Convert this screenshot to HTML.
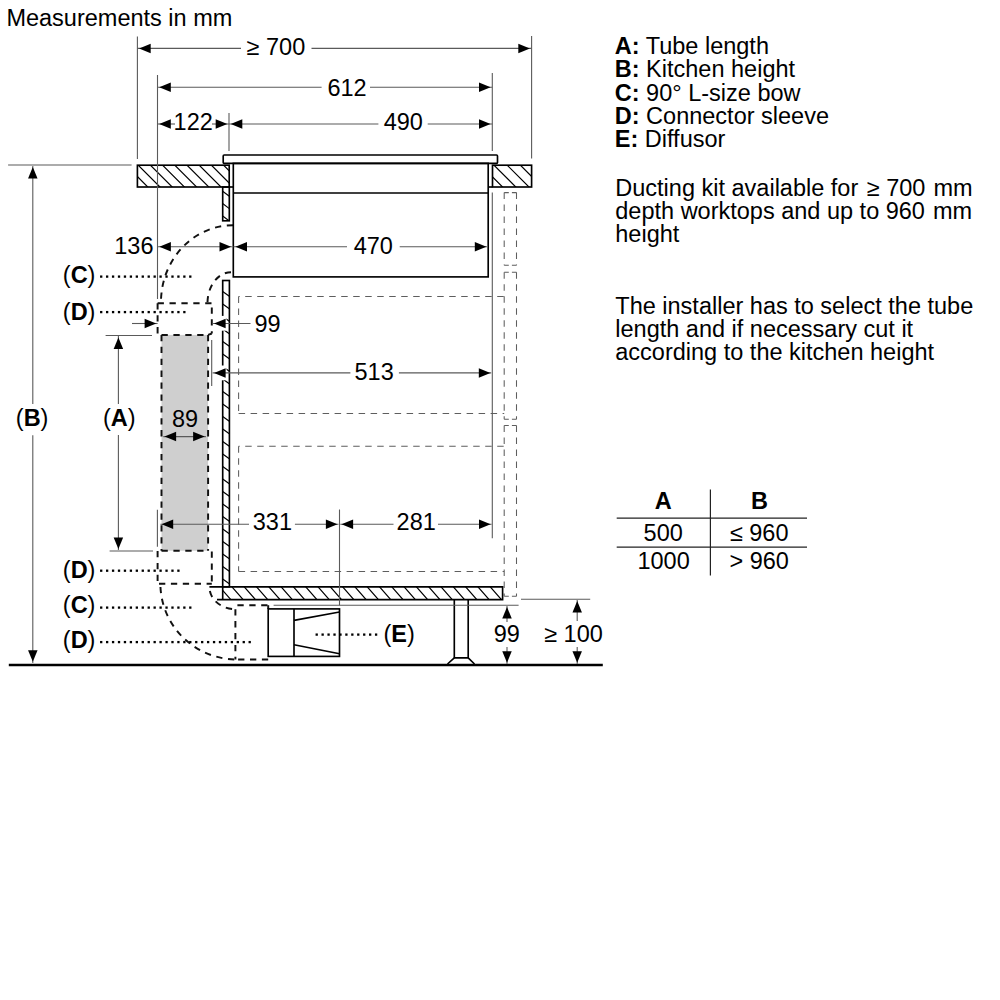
<!DOCTYPE html>
<html><head><meta charset="utf-8"><title>Ducting kit measurements</title>
<style>
html,body{margin:0;padding:0;background:#fff;}
body{width:1000px;height:1000px;overflow:hidden;}
svg{display:block;font-family:"Liberation Sans",sans-serif;}
svg text{fill:#000;}
</style></head>
<body>
<svg width="1000" height="1000" viewBox="0 0 1000 1000">
<rect width="1000" height="1000" fill="#fff"/>
<path d="M238.6,296.5 L504.2,296.5" stroke="#5e5e5e" stroke-width="1.05" fill="none" stroke-dasharray="6.5 5.5" stroke-dashoffset="5.4"/>
<path d="M238.6,296.5 L238.6,413.4" stroke="#5e5e5e" stroke-width="1.05" fill="none" stroke-dasharray="6.5 5.5"/>
<path d="M238.6,413.4 L504.2,413.4" stroke="#5e5e5e" stroke-width="1.05" fill="none" stroke-dasharray="6.5 5.5"/>
<path d="M238.6,446.2 L504.2,446.2" stroke="#5e5e5e" stroke-width="1.05" fill="none" stroke-dasharray="6.5 5.5" stroke-dashoffset="5.4"/>
<path d="M238.6,446.2 L238.6,571.5" stroke="#5e5e5e" stroke-width="1.05" fill="none" stroke-dasharray="6.5 5.5"/>
<path d="M238.6,571.5 L504.2,571.5" stroke="#5e5e5e" stroke-width="1.05" fill="none" stroke-dasharray="6.5 5.5"/>
<path d="M504.2,192.6 L516.5,192.6" stroke="#5e5e5e" stroke-width="1.05" fill="none" stroke-dasharray="4.6 3.1 4.6"/>
<path d="M504.2,265.3 L516.5,265.3" stroke="#5e5e5e" stroke-width="1.05" fill="none" stroke-dasharray="4.6 3.1 4.6"/>
<path d="M504.2,192.6 L504.2,265.3" stroke="#5e5e5e" stroke-width="1.05" fill="none" stroke-dasharray="6.5 5.5"/>
<path d="M516.5,192.6 L516.5,265.3" stroke="#5e5e5e" stroke-width="1.05" fill="none" stroke-dasharray="6.5 5.5"/>
<path d="M504.2,272.3 L516.5,272.3" stroke="#5e5e5e" stroke-width="1.05" fill="none" stroke-dasharray="4.6 3.1 4.6"/>
<path d="M504.2,419.2 L516.5,419.2" stroke="#5e5e5e" stroke-width="1.05" fill="none" stroke-dasharray="4.6 3.1 4.6"/>
<path d="M504.2,272.3 L504.2,419.2" stroke="#5e5e5e" stroke-width="1.05" fill="none" stroke-dasharray="6.5 5.5"/>
<path d="M516.5,272.3 L516.5,419.2" stroke="#5e5e5e" stroke-width="1.05" fill="none" stroke-dasharray="6.5 5.5"/>
<path d="M504.2,425.5 L516.5,425.5" stroke="#5e5e5e" stroke-width="1.05" fill="none" stroke-dasharray="4.6 3.1 4.6"/>
<path d="M504.2,596.3 L516.5,596.3" stroke="#5e5e5e" stroke-width="1.05" fill="none" stroke-dasharray="4.6 3.1 4.6"/>
<path d="M504.2,425.5 L504.2,596.3" stroke="#5e5e5e" stroke-width="1.05" fill="none" stroke-dasharray="6.5 5.5"/>
<path d="M516.5,425.5 L516.5,596.3" stroke="#5e5e5e" stroke-width="1.05" fill="none" stroke-dasharray="6.5 5.5"/>
<rect x="161.5" y="334.9" width="46.6" height="215.8" fill="#cfcfcf"/>
<path d="M161.5,334.9 H208.1 M161.5,334.9 V550.7 M208.1,334.9 V550.7 M161.5,550.7 H208.1" stroke="#111" stroke-width="1.95" fill="none" stroke-dasharray="6.3 5.6"/>
<path d="M233,225.2 A72,76.8 0 0 0 161,302" stroke="#111" stroke-width="1.95" fill="none" stroke-dasharray="6.3 5.6"/>
<path d="M231,272.2 A23.5,30.8 0 0 0 207.5,303" stroke="#111" stroke-width="1.95" fill="none" stroke-dasharray="6.3 5.6"/>
<path d="M157.6,303.3 L157.6,333.5" stroke="#111" stroke-width="1.95" fill="none" stroke-dasharray="6.3 5.6"/>
<path d="M157.6,303.3 L211.8,303.3" stroke="#111" stroke-width="1.95" fill="none" stroke-dasharray="6.3 5.6"/>
<path d="M211.8,307.4 L211.8,333.5" stroke="#111" stroke-width="1.95" fill="none" stroke-dasharray="6.3 5.6"/>
<path d="M211.8,333.5 L208.1,334.9" stroke="#111" stroke-width="1.95" fill="none" stroke-dasharray="6.3 5.6"/>
<path d="M157.6,551 L157.6,583.7" stroke="#111" stroke-width="1.95" fill="none" stroke-dasharray="6.3 5.6"/>
<path d="M159,583.7 L211.8,583.7" stroke="#111" stroke-width="1.95" fill="none" stroke-dasharray="6.3 5.6"/>
<path d="M211.8,551.5 L211.8,583.7" stroke="#111" stroke-width="1.95" fill="none" stroke-dasharray="6.3 5.6"/>
<path d="M160.4,583.7 A76.6,75.8 0 0 0 237,659.5" stroke="#111" stroke-width="1.95" fill="none" stroke-dasharray="6.3 5.6" stroke-dashoffset="8.6"/>
<path d="M209.4,586.8 A26,22.4 0 0 0 235.4,609.2" stroke="#111" stroke-width="1.95" fill="none" stroke-dasharray="6.3 5.6" stroke-dashoffset="7.6"/>
<path d="M235.4,609.2 L235.4,659.5" stroke="#111" stroke-width="1.95" fill="none" stroke-dasharray="6.3 5.6"/>
<path d="M268.2,659.5 L235.4,659.5" stroke="#111" stroke-width="1.95" fill="none" stroke-dasharray="6.3 5.6"/>
<path d="M237.4,605.2 L268.2,605.2" stroke="#111" stroke-width="1.95" fill="none" stroke-dasharray="6.3 5.6"/>
<path d="M268.2,605.2 L268.2,608.9" stroke="#111" stroke-width="1.95" fill="none" stroke-dasharray="6.3 5.6"/>
<clipPath id="h1"><rect x="137.4" y="165.2" width="91.79999999999998" height="21.80000000000001"/></clipPath>
<path d="M108.80,160.20L140.60,192.00M121.00,160.20L152.80,192.00M133.20,160.20L165.00,192.00M145.40,160.20L177.20,192.00M157.60,160.20L189.40,192.00M169.80,160.20L201.60,192.00M182.00,160.20L213.80,192.00M194.20,160.20L226.00,192.00M206.40,160.20L238.20,192.00M218.60,160.20L250.40,192.00M230.80,160.20L262.60,192.00M243.00,160.20L274.80,192.00" stroke="#000" stroke-width="1.2" fill="none" clip-path="url(#h1)"/>
<rect x="137.4" y="165.2" width="91.8" height="21.8" stroke="#000" stroke-width="1.65" fill="none"/>
<clipPath id="h2"><rect x="492.5" y="165.2" width="39.10000000000002" height="21.80000000000001"/></clipPath>
<path d="M462.60,160.20L494.40,192.00M475.80,160.20L507.60,192.00M489.00,160.20L520.80,192.00M502.20,160.20L534.00,192.00M515.40,160.20L547.20,192.00M528.60,160.20L560.40,192.00M541.80,160.20L573.60,192.00" stroke="#000" stroke-width="1.2" fill="none" clip-path="url(#h2)"/>
<rect x="492.5" y="165.2" width="39.1" height="21.8" stroke="#000" stroke-width="1.65" fill="none"/>
<rect x="223.2" y="155" width="274.3" height="8.4" rx="1" stroke="#000" stroke-width="1.65" fill="none"/>
<rect x="233.3" y="163.4" width="254.9" height="113.5" stroke="#000" stroke-width="1.65" fill="none"/>
<line x1="233.3" y1="193" x2="488.2" y2="193" stroke="#000" stroke-width="1.65" fill="none"/>
<line x1="229.2" y1="187" x2="233.3" y2="187" stroke="#000" stroke-width="1.65" fill="none"/>
<line x1="488.2" y1="187" x2="492.5" y2="187" stroke="#000" stroke-width="1.65" fill="none"/>
<clipPath id="h3"><rect x="222.7" y="187" width="6.600000000000023" height="33.80000000000001"/></clipPath>
<path d="M220.70,189.68L231.30,197.72M220.70,202.08L231.30,210.12M220.70,214.48L231.30,222.52M220.70,226.88L231.30,234.92" stroke="#000" stroke-width="1.15" fill="none" clip-path="url(#h3)"/>
<rect x="222.7" y="187" width="6.6" height="33.8" stroke="#000" stroke-width="1.65" fill="none"/>
<clipPath id="h4"><rect x="222.7" y="280.5" width="6.700000000000017" height="306.29999999999995"/></clipPath>
<path d="M220.70,290.07L231.40,297.73M220.70,302.57L231.40,310.23M220.70,315.07L231.40,322.73M220.70,327.57L231.40,335.23M220.70,340.07L231.40,347.73M220.70,352.57L231.40,360.23M220.70,365.07L231.40,372.73M220.70,377.57L231.40,385.23M220.70,390.07L231.40,397.73M220.70,402.57L231.40,410.23M220.70,415.07L231.40,422.73M220.70,427.57L231.40,435.23M220.70,440.07L231.40,447.73M220.70,452.57L231.40,460.23M220.70,465.07L231.40,472.73M220.70,477.57L231.40,485.23M220.70,490.07L231.40,497.73M220.70,502.57L231.40,510.23M220.70,515.07L231.40,522.73M220.70,527.57L231.40,535.23M220.70,540.07L231.40,547.73M220.70,552.57L231.40,560.23M220.70,565.07L231.40,572.73M220.70,577.57L231.40,585.23M220.70,590.07L231.40,597.73M220.70,602.57L231.40,610.23" stroke="#000" stroke-width="1.15" fill="none" clip-path="url(#h4)"/>
<rect x="222.7" y="280.5" width="6.7" height="306.3" stroke="#000" stroke-width="1.65" fill="none"/>
<line x1="222.7" y1="586.8" x2="222.7" y2="599.6" stroke="#000" stroke-width="1.65" fill="none"/>
<clipPath id="h5"><rect x="222.7" y="586.8" width="279.90000000000003" height="12.800000000000068"/></clipPath>
<path d="M202.30,581.10L222.91,604.60M214.60,581.10L235.21,604.60M226.90,581.10L247.51,604.60M239.20,581.10L259.81,604.60M251.50,581.10L272.11,604.60M263.80,581.10L284.41,604.60M276.10,581.10L296.71,604.60M288.40,581.10L309.01,604.60M300.70,581.10L321.31,604.60M313.00,581.10L333.61,604.60M325.30,581.10L345.91,604.60M337.60,581.10L358.21,604.60M349.90,581.10L370.51,604.60M362.20,581.10L382.81,604.60M374.50,581.10L395.11,604.60M386.80,581.10L407.41,604.60M399.10,581.10L419.71,604.60M411.40,581.10L432.01,604.60M423.70,581.10L444.31,604.60M436.00,581.10L456.61,604.60M448.30,581.10L468.91,604.60M460.60,581.10L481.21,604.60M472.90,581.10L493.51,604.60M485.20,581.10L505.81,604.60M497.50,581.10L518.11,604.60M509.80,581.10L530.41,604.60" stroke="#000" stroke-width="1.2" fill="none" clip-path="url(#h5)"/>
<path d="M209.4,586.8 H502.6 V599.6 H217" stroke="#000" stroke-width="1.65" fill="none"/>
<path d="M454.3,599.6 V657.8 H468.2 V599.6" stroke="#000" stroke-width="1.65" fill="none"/>
<path d="M454.3,657.8 L447.5,664 M468.2,657.8 L474.5,664" stroke="#000" stroke-width="1.65" fill="none"/>
<rect x="268.2" y="608.9" width="71.3" height="47.5" stroke="#000" stroke-width="1.65" fill="none"/>
<line x1="294" y1="608.9" x2="294" y2="656.4" stroke="#000" stroke-width="1.65" fill="none"/>
<line x1="294" y1="620.4" x2="339.5" y2="612" stroke="#000" stroke-width="1.65" fill="none"/>
<line x1="294" y1="644.7" x2="339.5" y2="653.7" stroke="#000" stroke-width="1.65" fill="none"/>
<line x1="8.8" y1="665.1" x2="602.8" y2="665.1" stroke="#000" stroke-width="2.5"/>
<line x1="137.4" y1="36.6" x2="137.4" y2="159" stroke="#5a5a5a" stroke-width="1.1" fill="none"/>
<line x1="531.6" y1="36" x2="531.6" y2="158.5" stroke="#5a5a5a" stroke-width="1.1" fill="none"/>
<line x1="137.4" y1="48.4" x2="241" y2="48.4" stroke="#5a5a5a" stroke-width="1.1" fill="none"/>
<line x1="311.5" y1="48.4" x2="531.6" y2="48.4" stroke="#5a5a5a" stroke-width="1.1" fill="none"/>
<polygon points="139.10,48.40 150.70,43.65 150.70,53.15" fill="#000"/>
<polygon points="529.90,48.40 518.30,43.65 518.30,53.15" fill="#000"/>
<line x1="157.5" y1="75" x2="157.5" y2="299" stroke="#5a5a5a" stroke-width="1.1" fill="none"/>
<line x1="492.3" y1="73" x2="492.3" y2="151" stroke="#5a5a5a" stroke-width="1.1" fill="none"/>
<line x1="492.3" y1="192.4" x2="492.3" y2="538.2" stroke="#5a5a5a" stroke-width="1.1" fill="none"/>
<line x1="157.5" y1="87.2" x2="321.6" y2="87.2" stroke="#5a5a5a" stroke-width="1.1" fill="none"/>
<line x1="370" y1="87.2" x2="492.3" y2="87.2" stroke="#5a5a5a" stroke-width="1.1" fill="none"/>
<polygon points="159.20,87.20 170.80,82.45 170.80,91.95" fill="#000"/>
<polygon points="490.60,87.20 479.00,82.45 479.00,91.95" fill="#000"/>
<line x1="229" y1="113" x2="229" y2="151" stroke="#5a5a5a" stroke-width="1.1" fill="none"/>
<line x1="157.5" y1="124" x2="175" y2="124" stroke="#5a5a5a" stroke-width="1.1" fill="none"/>
<line x1="212" y1="124" x2="229" y2="124" stroke="#5a5a5a" stroke-width="1.1" fill="none"/>
<polygon points="159.20,124.00 170.80,119.25 170.80,128.75" fill="#000"/>
<polygon points="227.30,124.00 215.70,119.25 215.70,128.75" fill="#000"/>
<line x1="229" y1="124" x2="378.4" y2="124" stroke="#5a5a5a" stroke-width="1.1" fill="none"/>
<line x1="427.7" y1="124" x2="492.3" y2="124" stroke="#5a5a5a" stroke-width="1.1" fill="none"/>
<polygon points="230.70,124.00 242.30,119.25 242.30,128.75" fill="#000"/>
<polygon points="490.60,124.00 479.00,119.25 479.00,128.75" fill="#000"/>
<line x1="157.6" y1="246.7" x2="232.5" y2="246.7" stroke="#5a5a5a" stroke-width="1.1" fill="none"/>
<polygon points="159.30,246.70 170.90,241.95 170.90,251.45" fill="#000"/>
<polygon points="231.10,246.70 219.50,241.95 219.50,251.45" fill="#000"/>
<line x1="233.5" y1="246.7" x2="347" y2="246.7" stroke="#5a5a5a" stroke-width="1.1" fill="none"/>
<line x1="399.7" y1="246.7" x2="487.5" y2="246.7" stroke="#5a5a5a" stroke-width="1.1" fill="none"/>
<polygon points="235.40,246.70 247.00,241.95 247.00,251.45" fill="#000"/>
<polygon points="486.40,246.70 474.80,241.95 474.80,251.45" fill="#000"/>
<rect x="214.5" y="315.9" width="12" height="14.8" fill="#fff"/>
<rect x="214.5" y="365.5" width="12" height="14.8" fill="#fff"/>
<line x1="132" y1="323.5" x2="157.6" y2="323.5" stroke="#5a5a5a" stroke-width="1.1" fill="none"/>
<polygon points="156.20,323.50 144.60,318.75 144.60,328.25" fill="#000"/>
<line x1="212.6" y1="323.5" x2="250.5" y2="323.5" stroke="#5a5a5a" stroke-width="1.1" fill="none"/>
<polygon points="214.00,323.50 225.60,318.75 225.60,328.25" fill="#000"/>
<line x1="211.7" y1="339.9" x2="211.7" y2="386" stroke="#5a5a5a" stroke-width="1.1" fill="none"/>
<line x1="212.6" y1="372.9" x2="350.4" y2="372.9" stroke="#5a5a5a" stroke-width="1.1" fill="none"/>
<line x1="398.9" y1="372.9" x2="491.2" y2="372.9" stroke="#5a5a5a" stroke-width="1.1" fill="none"/>
<polygon points="214.00,372.90 225.60,368.15 225.60,377.65" fill="#000"/>
<polygon points="490.40,372.90 478.80,368.15 478.80,377.65" fill="#000"/>
<line x1="163.3" y1="436.6" x2="205.9" y2="436.6" stroke="#5a5a5a" stroke-width="1.1" fill="none"/>
<polygon points="164.50,436.60 176.10,431.85 176.10,441.35" fill="#000"/>
<polygon points="204.70,436.60 193.10,431.85 193.10,441.35" fill="#000"/>
<line x1="157.4" y1="509.8" x2="157.4" y2="546.7" stroke="#5a5a5a" stroke-width="1.1" fill="none"/>
<line x1="339.5" y1="509.5" x2="339.5" y2="605.2" stroke="#5a5a5a" stroke-width="1.1" fill="none"/>
<line x1="160.4" y1="524.3" x2="249" y2="524.3" stroke="#5a5a5a" stroke-width="1.1" fill="none"/>
<line x1="294.9" y1="524.3" x2="338.5" y2="524.3" stroke="#5a5a5a" stroke-width="1.1" fill="none"/>
<polygon points="161.60,524.30 173.20,519.55 173.20,529.05" fill="#000"/>
<polygon points="337.50,524.30 325.90,519.55 325.90,529.05" fill="#000"/>
<line x1="340.3" y1="524.3" x2="393.5" y2="524.3" stroke="#5a5a5a" stroke-width="1.1" fill="none"/>
<line x1="438" y1="524.3" x2="491.6" y2="524.3" stroke="#5a5a5a" stroke-width="1.1" fill="none"/>
<polygon points="341.50,524.30 353.10,519.55 353.10,529.05" fill="#000"/>
<polygon points="490.60,524.30 479.00,519.55 479.00,529.05" fill="#000"/>
<line x1="105.6" y1="335.5" x2="152" y2="335.5" stroke="#5a5a5a" stroke-width="1.1" fill="none"/>
<line x1="109.6" y1="551" x2="153" y2="551" stroke="#5a5a5a" stroke-width="1.1" fill="none"/>
<line x1="118.4" y1="336" x2="118.4" y2="404" stroke="#5a5a5a" stroke-width="1.1" fill="none"/>
<line x1="118.4" y1="435" x2="118.4" y2="550" stroke="#5a5a5a" stroke-width="1.1" fill="none"/>
<polygon points="118.40,337.50 113.65,349.10 123.15,349.10" fill="#000"/>
<polygon points="118.40,549.00 113.65,537.40 123.15,537.40" fill="#000"/>
<line x1="8.1" y1="165" x2="131.6" y2="165" stroke="#5a5a5a" stroke-width="1.1" fill="none"/>
<line x1="32.8" y1="166" x2="32.8" y2="404" stroke="#5a5a5a" stroke-width="1.1" fill="none"/>
<line x1="32.8" y1="435.2" x2="32.8" y2="663" stroke="#5a5a5a" stroke-width="1.1" fill="none"/>
<polygon points="32.80,167.00 28.05,178.60 37.55,178.60" fill="#000"/>
<polygon points="32.80,661.80 28.05,650.20 37.55,650.20" fill="#000"/>
<line x1="273.6" y1="605.2" x2="518.6" y2="605.2" stroke="#5a5a5a" stroke-width="1.1" fill="none"/>
<line x1="507" y1="606" x2="507" y2="622" stroke="#5a5a5a" stroke-width="1.1" fill="none"/>
<line x1="507" y1="647" x2="507" y2="664" stroke="#5a5a5a" stroke-width="1.1" fill="none"/>
<polygon points="507.00,606.90 502.25,618.50 511.75,618.50" fill="#000"/>
<polygon points="507.00,662.80 502.25,651.20 511.75,651.20" fill="#000"/>
<line x1="521" y1="599.2" x2="590.2" y2="599.2" stroke="#5a5a5a" stroke-width="1.1" fill="none"/>
<line x1="577.2" y1="600" x2="577.2" y2="621" stroke="#5a5a5a" stroke-width="1.1" fill="none"/>
<line x1="577.2" y1="647" x2="577.2" y2="664" stroke="#5a5a5a" stroke-width="1.1" fill="none"/>
<polygon points="577.20,600.90 572.45,612.50 581.95,612.50" fill="#000"/>
<polygon points="577.20,662.80 572.45,651.20 581.95,651.20" fill="#000"/>
<g fill="#000"><rect x="100.05" y="275.45" width="2.30" height="2.30"/><rect x="105.99" y="275.45" width="2.30" height="2.30"/><rect x="111.93" y="275.45" width="2.30" height="2.30"/><rect x="117.87" y="275.45" width="2.30" height="2.30"/><rect x="123.81" y="275.45" width="2.30" height="2.30"/><rect x="129.75" y="275.45" width="2.30" height="2.30"/><rect x="135.69" y="275.45" width="2.30" height="2.30"/><rect x="141.63" y="275.45" width="2.30" height="2.30"/><rect x="147.57" y="275.45" width="2.30" height="2.30"/><rect x="153.51" y="275.45" width="2.30" height="2.30"/><rect x="159.45" y="275.45" width="2.30" height="2.30"/><rect x="165.39" y="275.45" width="2.30" height="2.30"/><rect x="171.33" y="275.45" width="2.30" height="2.30"/><rect x="177.27" y="275.45" width="2.30" height="2.30"/><rect x="183.21" y="275.45" width="2.30" height="2.30"/><rect x="189.15" y="275.45" width="2.30" height="2.30"/></g>
<g fill="#000"><rect x="100.05" y="310.95" width="2.30" height="2.30"/><rect x="105.99" y="310.95" width="2.30" height="2.30"/><rect x="111.93" y="310.95" width="2.30" height="2.30"/><rect x="117.87" y="310.95" width="2.30" height="2.30"/><rect x="123.81" y="310.95" width="2.30" height="2.30"/><rect x="129.75" y="310.95" width="2.30" height="2.30"/><rect x="135.69" y="310.95" width="2.30" height="2.30"/><rect x="141.63" y="310.95" width="2.30" height="2.30"/><rect x="147.57" y="310.95" width="2.30" height="2.30"/><rect x="153.51" y="310.95" width="2.30" height="2.30"/><rect x="159.45" y="310.95" width="2.30" height="2.30"/><rect x="165.39" y="310.95" width="2.30" height="2.30"/><rect x="171.33" y="310.95" width="2.30" height="2.30"/><rect x="177.27" y="310.95" width="2.30" height="2.30"/><rect x="183.21" y="310.95" width="2.30" height="2.30"/></g>
<g fill="#000"><rect x="100.05" y="569.55" width="2.30" height="2.30"/><rect x="105.99" y="569.55" width="2.30" height="2.30"/><rect x="111.93" y="569.55" width="2.30" height="2.30"/><rect x="117.87" y="569.55" width="2.30" height="2.30"/><rect x="123.81" y="569.55" width="2.30" height="2.30"/><rect x="129.75" y="569.55" width="2.30" height="2.30"/><rect x="135.69" y="569.55" width="2.30" height="2.30"/><rect x="141.63" y="569.55" width="2.30" height="2.30"/><rect x="147.57" y="569.55" width="2.30" height="2.30"/><rect x="153.51" y="569.55" width="2.30" height="2.30"/><rect x="159.45" y="569.55" width="2.30" height="2.30"/><rect x="165.39" y="569.55" width="2.30" height="2.30"/><rect x="171.33" y="569.55" width="2.30" height="2.30"/><rect x="177.27" y="569.55" width="2.30" height="2.30"/></g>
<g fill="#000"><rect x="100.05" y="606.45" width="2.30" height="2.30"/><rect x="105.99" y="606.45" width="2.30" height="2.30"/><rect x="111.93" y="606.45" width="2.30" height="2.30"/><rect x="117.87" y="606.45" width="2.30" height="2.30"/><rect x="123.81" y="606.45" width="2.30" height="2.30"/><rect x="129.75" y="606.45" width="2.30" height="2.30"/><rect x="135.69" y="606.45" width="2.30" height="2.30"/><rect x="141.63" y="606.45" width="2.30" height="2.30"/><rect x="147.57" y="606.45" width="2.30" height="2.30"/><rect x="153.51" y="606.45" width="2.30" height="2.30"/><rect x="159.45" y="606.45" width="2.30" height="2.30"/><rect x="165.39" y="606.45" width="2.30" height="2.30"/><rect x="171.33" y="606.45" width="2.30" height="2.30"/><rect x="177.27" y="606.45" width="2.30" height="2.30"/><rect x="183.21" y="606.45" width="2.30" height="2.30"/><rect x="189.15" y="606.45" width="2.30" height="2.30"/></g>
<g fill="#000"><rect x="100.05" y="640.95" width="2.30" height="2.30"/><rect x="105.99" y="640.95" width="2.30" height="2.30"/><rect x="111.93" y="640.95" width="2.30" height="2.30"/><rect x="117.87" y="640.95" width="2.30" height="2.30"/><rect x="123.81" y="640.95" width="2.30" height="2.30"/><rect x="129.75" y="640.95" width="2.30" height="2.30"/><rect x="135.69" y="640.95" width="2.30" height="2.30"/><rect x="141.63" y="640.95" width="2.30" height="2.30"/><rect x="147.57" y="640.95" width="2.30" height="2.30"/><rect x="153.51" y="640.95" width="2.30" height="2.30"/><rect x="159.45" y="640.95" width="2.30" height="2.30"/><rect x="165.39" y="640.95" width="2.30" height="2.30"/><rect x="171.33" y="640.95" width="2.30" height="2.30"/><rect x="177.27" y="640.95" width="2.30" height="2.30"/><rect x="183.21" y="640.95" width="2.30" height="2.30"/><rect x="189.15" y="640.95" width="2.30" height="2.30"/><rect x="195.09" y="640.95" width="2.30" height="2.30"/><rect x="201.03" y="640.95" width="2.30" height="2.30"/><rect x="206.97" y="640.95" width="2.30" height="2.30"/><rect x="212.91" y="640.95" width="2.30" height="2.30"/><rect x="218.85" y="640.95" width="2.30" height="2.30"/><rect x="224.79" y="640.95" width="2.30" height="2.30"/><rect x="230.73" y="640.95" width="2.30" height="2.30"/><rect x="236.67" y="640.95" width="2.30" height="2.30"/><rect x="242.61" y="640.95" width="2.30" height="2.30"/><rect x="248.55" y="640.95" width="2.30" height="2.30"/></g>
<g fill="#000"><rect x="315.55" y="633.45" width="2.30" height="2.30"/><rect x="321.49" y="633.45" width="2.30" height="2.30"/><rect x="327.43" y="633.45" width="2.30" height="2.30"/><rect x="333.37" y="633.45" width="2.30" height="2.30"/><rect x="339.31" y="633.45" width="2.30" height="2.30"/><rect x="345.25" y="633.45" width="2.30" height="2.30"/><rect x="351.19" y="633.45" width="2.30" height="2.30"/><rect x="357.13" y="633.45" width="2.30" height="2.30"/><rect x="363.07" y="633.45" width="2.30" height="2.30"/><rect x="369.01" y="633.45" width="2.30" height="2.30"/><rect x="374.95" y="633.45" width="2.30" height="2.30"/></g>
<text x="6.4" y="26.0" text-anchor="start" font-size="23.5">Measurements in mm</text>
<text x="246.6" y="55.0" text-anchor="start" font-size="23.5">≥ 700</text>
<text x="327.4" y="95.5" text-anchor="start" font-size="23.5">612</text>
<text x="173.6" y="130.2" text-anchor="start" font-size="23.5">122</text>
<text x="383.7" y="130.2" text-anchor="start" font-size="23.5">490</text>
<text x="114.3" y="253.7" text-anchor="start" font-size="23.5">136</text>
<text x="353.7" y="253.6" text-anchor="start" font-size="23.5">470</text>
<text x="254.5" y="332.0" text-anchor="start" font-size="23.5">99</text>
<text x="354.5" y="379.7" text-anchor="start" font-size="23.5">513</text>
<text x="171.9" y="426.8" text-anchor="start" font-size="23.5">89</text>
<text x="252.8" y="530.3" text-anchor="start" font-size="23.5">331</text>
<text x="396.6" y="530.3" text-anchor="start" font-size="23.5">281</text>
<text x="493.8" y="642.0" text-anchor="start" font-size="23.5">99</text>
<text x="544.2" y="642.0" text-anchor="start" font-size="23.5">≥ 100</text>
<text x="62.8" y="282.6" font-size="23.5">(<tspan font-weight="bold">C</tspan>)</text>
<text x="62.8" y="319.9" font-size="23.5">(<tspan font-weight="bold">D</tspan>)</text>
<text x="15.8" y="426.4" font-size="23.5">(<tspan font-weight="bold">B</tspan>)</text>
<text x="103.0" y="426.4" font-size="23.5">(<tspan font-weight="bold">A</tspan>)</text>
<text x="62.8" y="577.5" font-size="23.5">(<tspan font-weight="bold">D</tspan>)</text>
<text x="62.8" y="613.0" font-size="23.5">(<tspan font-weight="bold">C</tspan>)</text>
<text x="62.8" y="648.0" font-size="23.5">(<tspan font-weight="bold">D</tspan>)</text>
<text x="383.5" y="642.0" font-size="23.5">(<tspan font-weight="bold">E</tspan>)</text>
<text x="614.8" y="54.1" font-size="23.5"><tspan font-weight="bold">A:</tspan> Tube length</text>
<text x="614.8" y="77.4" font-size="23.5"><tspan font-weight="bold">B:</tspan> Kitchen height</text>
<text x="614.8" y="100.7" font-size="23.5"><tspan font-weight="bold">C:</tspan> 90° L-size bow</text>
<text x="614.8" y="124.0" font-size="23.5"><tspan font-weight="bold">D:</tspan> Connector sleeve</text>
<text x="614.8" y="147.3" font-size="23.5"><tspan font-weight="bold">E:</tspan> Diffusor</text>
<text x="615.3" y="196.2" text-anchor="start" font-size="23.5">Ducting kit available for <tspan dx="2">≥</tspan> 700 <tspan dx="1.5">mm</tspan></text>
<text x="615.3" y="219.0" text-anchor="start" font-size="23.5">depth worktops and up to 960 <tspan dx="1.5">mm</tspan></text>
<text x="615.3" y="241.8" text-anchor="start" font-size="23.5">height</text>
<text x="615.3" y="314.0" text-anchor="start" font-size="23.5">The installer has to select the tube</text>
<text x="615.3" y="336.8" text-anchor="start" font-size="23.5">length and if necessary cut it</text>
<text x="615.3" y="359.6" text-anchor="start" font-size="23.5">according to the kitchen height</text>
<line x1="710.4" y1="489.5" x2="710.4" y2="575.5" stroke="#222" stroke-width="1.2"/>
<line x1="616.7" y1="518.2" x2="807" y2="518.2" stroke="#222" stroke-width="1.2"/>
<line x1="616.7" y1="547.2" x2="807" y2="547.2" stroke="#222" stroke-width="1.2"/>
<text x="663.2" y="509.0" text-anchor="middle" font-size="23.5" font-weight="bold">A</text>
<text x="759.4" y="509.0" text-anchor="middle" font-size="23.5" font-weight="bold">B</text>
<text x="663.2" y="540.5" text-anchor="middle" font-size="23.5">500</text>
<text x="759.2" y="540.5" text-anchor="middle" font-size="23.5">≤ 960</text>
<text x="663.6" y="569.2" text-anchor="middle" font-size="23.5">1000</text>
<text x="759.2" y="569.2" text-anchor="middle" font-size="23.5">&gt; 960</text>
</svg>
</body></html>
